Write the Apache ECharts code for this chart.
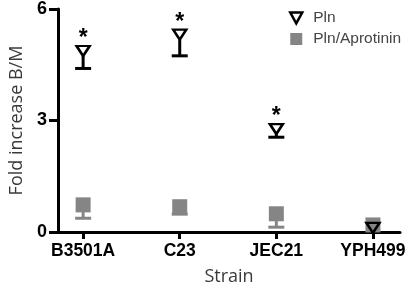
<!DOCTYPE html>
<html>
<head>
<meta charset="utf-8">
<script src="https://cdn.jsdelivr.net/npm/echarts@6/dist/echarts.min.js"></script>
<style>html,body{margin:0;padding:0;background:#fff}#c{width:413px;height:291px}</style>
</head>
<body>
<div id="c"></div>
<script>
const categories = ['B3501A', 'C23', 'JEC21', 'YPH499'];
const plnMean = [4.87, 5.31, 2.77, 0.11];
const plnLower = [4.40, 4.74, 2.55, 0.11];
const aproMean = [0.73, 0.68, 0.49, 0.19];
const aproLower = [0.37, 0.48, 0.13, 0.19];
const significance = ['*', '*', '*', ''];
const yTicks = [0, 3, 6];
const seriesNames = ['Pln', 'Pln/Aprotinin'];

const GREY = '#858585';
const TRI = 'path://M0,0L12,0L6,10Z';
const positions = categories.map((c, i) => i + 1);

function errSeries(means, lowers, offset, color, z) {
  return {
    type: 'custom',
    silent: true,
    z: z,
    data: means.map((m, i) => [positions[i], m, lowers[i]]),
    encode: { x: 0, y: 1 },
    renderItem: function (params, api) {
      const x = api.value(0), m = api.value(1), l = api.value(2);
      if (l >= m) return null;
      const p1 = api.coord([x, m]);
      const p2 = api.coord([x, l]);
      const style = { stroke: color, lineWidth: 3 };
      return {
        type: 'group',
        children: [
          { type: 'line', shape: { x1: p1[0], y1: p1[1] + offset, x2: p2[0], y2: p2[1] }, style: style },
          { type: 'line', shape: { x1: p2[0] - 8, y1: p2[1], x2: p2[0] + 8, y2: p2[1] }, style: style }
        ]
      };
    }
  };
}

const chart = echarts.init(document.getElementById('c'), null, { renderer: 'canvas' });
chart.setOption({
  animation: false,
  grid: { left: 55, right: 13, top: 7.5, bottom: 58 },
  legend: {
    orient: 'vertical',
    left: 284,
    top: 5,
    itemWidth: 12,
    itemHeight: 12,
    itemGap: 5,
    textStyle: { fontFamily: 'Liberation Sans', fontSize: 15.5, color: '#444', lineHeight: 16, padding: [0, 0, 0, 6] },
    data: [
      { name: seriesNames[0], icon: 'path://M0,0L10,0L5,9Z', itemStyle: { color: '#fff', borderColor: '#000', borderWidth: 2.5 } },
      { name: seriesNames[1], icon: 'rect', itemStyle: { color: GREY } }
    ]
  },
  xAxis: {
    type: 'value',
    min: 0.74,
    max: 4.28,
    name: 'Strain',
    nameLocation: 'middle',
    nameGap: 36,
    nameTextStyle: { fontFamily: 'Open Sans', fontSize: 18, color: '#3a3a3a' },
    axisLine: { show: true, onZero: false, lineStyle: { color: '#000', width: 3 } },
    axisTick: { show: true, length: 7, customValues: positions, lineStyle: { color: '#000', width: 3 } },
    axisLabel: {
      customValues: positions,
      margin: 10,
      fontFamily: 'Liberation Sans', fontWeight: 'bold', fontSize: 17.5, color: '#000',
      formatter: v => categories[Math.round(v) - 1] || ''
    },
    splitLine: { show: false }
  },
  yAxis: {
    type: 'value',
    min: yTicks[0],
    max: yTicks[yTicks.length - 1],
    interval: yTicks[1] - yTicks[0],
    name: 'Fold increase B/M',
    nameLocation: 'middle',
    nameGap: 32,
    nameTextStyle: { fontFamily: 'Open Sans', fontSize: 18, color: '#3a3a3a' },
    axisLine: { show: true, lineStyle: { color: '#000', width: 3 } },
    axisTick: { show: true, length: 9, lineStyle: { color: '#000', width: 3 } },
    axisLabel: { margin: 11, fontFamily: 'Liberation Sans', fontWeight: 'bold', fontSize: 18, color: '#000' },
    splitLine: { show: false }
  },
  series: [
    errSeries(aproMean, aproLower, 7, GREY, 2),
    {
      name: seriesNames[1],
      type: 'scatter',
      z: 3,
      symbol: 'rect',
      symbolSize: 15,
      itemStyle: { color: GREY, opacity: 1 },
      data: aproMean.map((m, i) => [positions[i], m])
    },
    errSeries(plnMean, plnLower, 5, '#000', 4),
    {
      name: seriesNames[0],
      type: 'scatter',
      z: 5,
      symbol: TRI,
      symbolSize: [13, 10],
      itemStyle: { color: 'rgba(255,255,255,0)', borderColor: '#000', borderWidth: 2.5, opacity: 1 },
      data: plnMean.map((m, i) => ({
        value: [positions[i], m],
        label: {
          show: significance[i] !== '',
          formatter: significance[i],
          position: 'top',
          distance: -5,
          fontFamily: 'Liberation Sans', fontWeight: 'bold', fontSize: 23, lineHeight: 22, color: '#000'
        }
      }))
    }
  ]
});
</script>
</body>
</html>
